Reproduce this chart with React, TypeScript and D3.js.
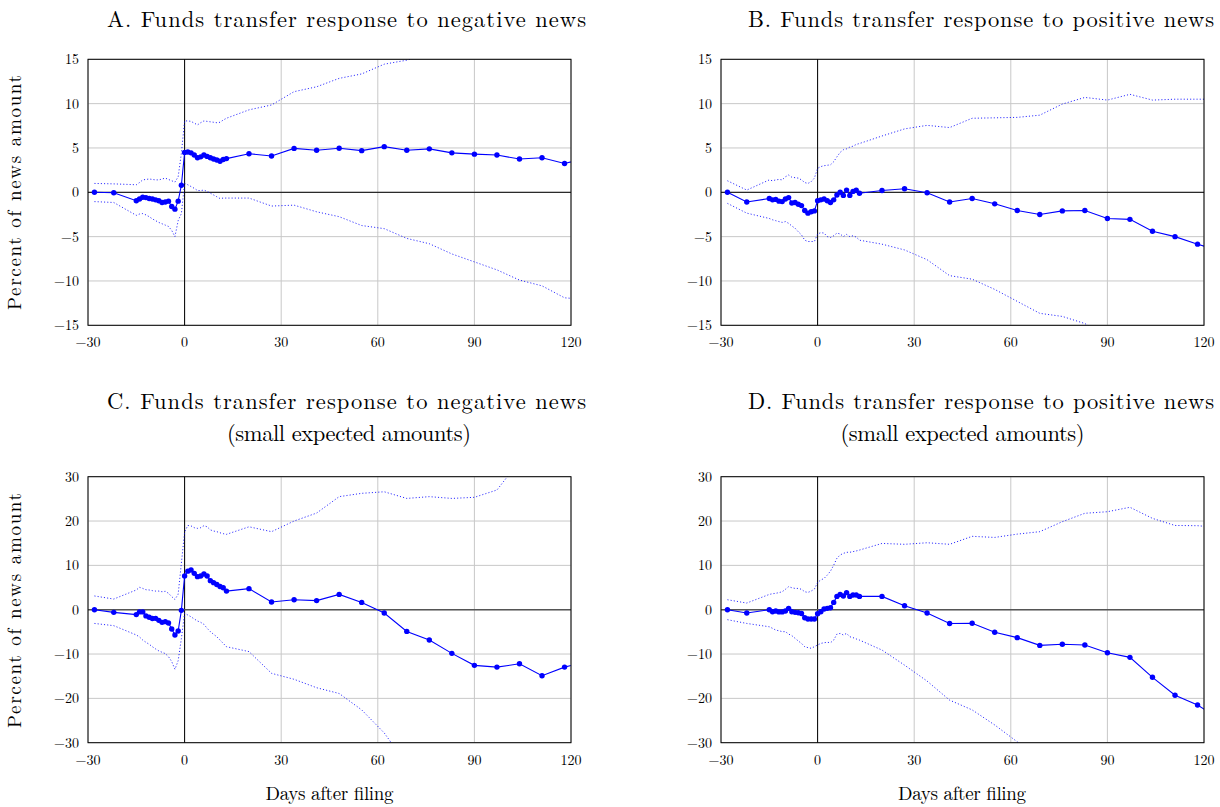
import React from "react";
import * as d3 from "d3";

const DAYS = [-28, -22, -15, -14, -13, -12, -11, -10, -9, -8, -7, -6, -5, -4, -3, -2, -1, 0, 1, 2, 3, 4, 5, 6, 7, 8, 9, 10, 11, 12, 13, 20, 27, 34, 41, 48, 55, 62, 69, 76, 83, 90, 97, 104, 111, 118, 125];

const X_TICKS = [-30, 0, 30, 60, 90, 120];
const Y_TICKS_TOP = [-15, -10, -5, 0, 5, 10, 15];
const Y_TICKS_BOTTOM = [-30, -20, -10, 0, 10, 20, 30];

// Panel A
const estA = [0, -0.05, -0.95, -0.75, -0.55, -0.6, -0.7, -0.75, -0.85, -0.95, -1.15, -1.1, -1.0, -1.6, -1.9, -1.0, 0.8, 4.5, 4.55, 4.45, 4.2, 3.9, 4.0, 4.2, 4.05, 3.9, 3.75, 3.65, 3.5, 3.7, 3.8, 4.35, 4.1, 4.95, 4.75, 4.96, 4.7, 5.15, 4.75, 4.9, 4.45, 4.3, 4.2, 3.75, 3.9, 3.25, 3.9];
const upA = [1.0, 0.95, 0.85, 1.1, 1.4, 1.45, 1.5, 1.45, 1.4, 1.4, 1.5, 1.6, 1.45, 1.3, 1.15, 1.75, 4.4, 8.05, 8.05, 8.0, 7.8, 7.6, 7.85, 8.05, 8.0, 7.95, 7.9, 7.85, 7.9, 8.15, 8.35, 9.3, 9.85, 11.35, 11.9, 12.85, 13.35, 14.45, 14.9, 15.6, 15.85, 16.45, 17.15, 17.4, 18.35, 18.4, 19.0];
const loA = [-1.05, -1.15, -2.6, -2.45, -2.4, -2.55, -2.75, -3.0, -3.2, -3.4, -3.55, -3.7, -3.85, -4.3, -5.0, -3.2, -2.4, 1.0, 0.85, 0.65, 0.45, 0.2, 0.2, 0.25, 0.1, -0.1, -0.3, -0.5, -0.7, -0.65, -0.65, -0.65, -1.55, -1.45, -2.2, -2.75, -3.75, -4.1, -5.2, -5.8, -6.95, -7.85, -8.75, -9.9, -10.55, -11.9, -12.1];

// Panel B
const estB = [0, -1.1, -0.7, -0.85, -0.8, -1.0, -1.05, -0.75, -0.6, -1.2, -1.15, -1.35, -1.5, -2.05, -2.35, -2.2, -2.1, -0.95, -0.85, -0.75, -0.95, -1.15, -0.85, -0.3, 0, -0.35, 0.25, -0.35, 0.1, 0.25, -0.1, 0.2, 0.4, -0.05, -1.1, -0.7, -1.3, -2.05, -2.5, -2.1, -2.05, -2.95, -3.05, -4.4, -5.0, -5.85, -6.6];
const upB = [1.3, 0.25, 1.4, 1.3, 1.4, 1.45, 1.4, 1.75, 1.95, 1.7, 1.65, 1.6, 1.4, 1.1, 1.0, 1.2, 1.6, 2.7, 2.9, 3.0, 3.05, 3.1, 3.45, 4.0, 4.5, 4.8, 4.9, 5.1, 5.2, 5.4, 5.5, 6.35, 7.15, 7.55, 7.3, 8.35, 8.4, 8.45, 8.7, 9.95, 10.7, 10.4, 11.05, 10.4, 10.5, 10.5, 10.5];
const loB = [-1.25, -2.35, -2.95, -3.1, -3.2, -3.3, -3.4, -3.3, -3.5, -3.8, -4.05, -4.45, -4.8, -5.4, -5.55, -5.55, -5.55, -4.7, -4.55, -4.6, -5.0, -5.1, -4.9, -4.6, -4.7, -5.0, -4.75, -5.0, -4.9, -5.05, -5.4, -5.85, -6.5, -7.6, -9.4, -9.8, -10.95, -12.3, -13.65, -14.0, -14.8, -16.3, -17.15, -19.2, -20.5, -22.2, -23.5];

// Panel C
const estC = [0, -0.6, -1.1, -0.5, -0.5, -1.4, -1.7, -2.0, -1.95, -2.4, -2.85, -2.7, -3.0, -4.35, -5.7, -4.8, -0.15, 7.6, 8.7, 8.95, 8.2, 7.45, 7.6, 8.05, 7.6, 6.55, 6.1, 5.7, 5.25, 4.95, 4.2, 4.75, 1.75, 2.25, 2.05, 3.45, 1.65, -0.75, -4.9, -6.85, -9.85, -12.55, -12.95, -12.2, -14.9, -12.95, -11.7];
const upC = [3.1, 2.4, 4.45, 5.05, 4.8, 4.5, 4.45, 4.3, 4.2, 4.2, 4.05, 4.15, 3.7, 2.95, 2.3, 3.5, 10.5, 17.5, 19.0, 18.9, 18.5, 18.35, 18.5, 18.95, 18.7, 18.0, 17.75, 17.6, 17.35, 17.15, 17.0, 18.7, 17.6, 20.0, 21.8, 25.5, 26.25, 26.6, 25.1, 25.5, 25.1, 25.35, 27.0, 33.5, 34, 35, 36];
const loC = [-3.1, -3.6, -5.7, -6.15, -6.85, -7.35, -7.8, -8.35, -8.85, -9.3, -9.6, -9.9, -10.6, -11.7, -13.45, -11.5, -6.5, -0.8, -1.2, -1.6, -2.1, -2.55, -2.85, -3.3, -4.2, -4.95, -5.55, -6.1, -6.85, -7.6, -8.35, -9.45, -14.35, -15.7, -17.6, -18.9, -22.6, -27.8, -34.9, -39.2, -44.8, -50.5, -52.9, -57.9, -63.8, -61, -60];

// Panel D
const estD = [0, -0.75, 0, -0.45, -0.3, -0.5, -0.5, -0.3, 0.3, -0.45, -0.6, -0.7, -0.85, -1.8, -2.1, -2.1, -2.1, -0.9, -0.45, 0.15, 0.3, 0.45, 1.65, 3.0, 3.45, 3.1, 3.85, 3.0, 3.3, 3.3, 3.0, 3.0, 0.9, -0.75, -3.1, -3.05, -5.1, -6.3, -8.05, -7.8, -7.95, -9.7, -10.75, -15.25, -19.3, -21.5, -24.7];
const upD = [2.25, 1.5, 3.45, 3.6, 3.7, 3.85, 4.05, 4.6, 5.2, 4.95, 4.8, 4.8, 4.6, 4.05, 3.9, 4.2, 4.65, 6.15, 6.7, 7.05, 7.8, 8.7, 10.05, 11.6, 12.35, 12.7, 12.95, 12.95, 13.1, 13.25, 13.45, 14.95, 14.75, 15.1, 14.75, 16.55, 16.3, 17.05, 17.6, 19.85, 21.75, 22.1, 23.1, 20.6, 19.0, 18.95, 18.5];
const loD = [-2.25, -3.1, -3.85, -4.2, -4.6, -4.75, -4.95, -4.95, -5.5, -5.85, -6.45, -7.05, -7.6, -8.35, -8.55, -8.7, -8.35, -7.95, -7.6, -7.45, -7.35, -7.45, -6.85, -5.5, -5.35, -5.7, -5.35, -6.1, -6.3, -6.6, -6.85, -9.1, -12.5, -16.1, -20.4, -22.6, -26.0, -29.8, -33.7, -35.5, -37.6, -41.5, -44.6, -51.1, -57.6, -62, -65];

const TITLE_A = "A. Funds transfer response to negative news";
const TITLE_B = "B. Funds transfer response to positive news";
const TITLE_C = ["C. Funds transfer response to negative news", "(small expected amounts)"];
const TITLE_D = ["D. Funds transfer response to positive news", "(small expected amounts)"];
const Y_LABEL = "Percent of news amount";
const X_LABEL = "Days after filing";

const FONT = "'Latin Modern Roman', 'Liberation Serif', 'DejaVu Serif', serif";
const BLUE = "#0000ff";

const fmt = (v: number) => (v < 0 ? "\u2212" + Math.abs(v) : String(v));

type PanelProps = {
  id: string;
  x0: number;
  x1: number;
  yTop: number;
  yBot: number;
  yDomain: [number, number];
  yTicks: number[];
  est: number[];
  up: number[];
  lo: number[];
  zeroStyle: { stroke: string; width: number };
};

function Panel(p: PanelProps) {
  const x = d3.scaleLinear().domain([-30, 120]).range([p.x0, p.x1]);
  const y = d3.scaleLinear().domain(p.yDomain).range([p.yBot, p.yTop]);
  const line = (vals: number[]) =>
    d3
      .line<number>()
      .x((_, i) => x(DAYS[i]))
      .y((v) => y(v))(vals) || "";
  const clipId = "clip-" + p.id;
  return (
    <g>
      <defs>
        <clipPath id={clipId}>
          <rect x={p.x0} y={p.yTop} width={p.x1 - p.x0} height={p.yBot - p.yTop} />
        </clipPath>
      </defs>
      {X_TICKS.map((t) => (
        <line key={"gx" + t} x1={x(t)} x2={x(t)} y1={p.yTop} y2={p.yBot} stroke="#c8c8c8" strokeWidth={1} />
      ))}
      {p.yTicks.map((t) => (
        <line key={"gy" + t} x1={p.x0} x2={p.x1} y1={y(t)} y2={y(t)} stroke="#c8c8c8" strokeWidth={1} />
      ))}
      <line x1={x(0)} x2={x(0)} y1={p.yTop} y2={p.yBot} stroke="#000" strokeWidth={1} />
      <line x1={p.x0} x2={p.x1} y1={y(0)} y2={y(0)} stroke={p.zeroStyle.stroke} strokeWidth={p.zeroStyle.width} />
      <g clipPath={`url(#${clipId})`}>
        <path d={line(p.up)} fill="none" stroke={BLUE} strokeOpacity={0.85} strokeWidth={1} strokeDasharray="1.1 2.1" />
        <path d={line(p.lo)} fill="none" stroke={BLUE} strokeOpacity={0.85} strokeWidth={1} strokeDasharray="1.1 2.1" />
        <path d={line(p.est)} fill="none" stroke={BLUE} strokeWidth={1.1} />
        {p.est.map((v, i) => (
          <circle key={i} cx={x(DAYS[i])} cy={y(v)} r={2.7} fill={BLUE} />
        ))}
      </g>
      <rect x={p.x0} y={p.yTop} width={p.x1 - p.x0} height={p.yBot - p.yTop} fill="none" stroke="#000" strokeWidth={1} />
      {X_TICKS.map((t) => (
        <text key={"tx" + t} x={x(t)} y={p.yBot + 22} textAnchor="middle" fontSize={14} fontFamily={FONT}>
          {fmt(t)}
        </text>
      ))}
      {p.yTicks.map((t) => (
        <text key={"ty" + t} x={p.x0 - 9} y={y(t) + 5} textAnchor="end" fontSize={14} fontFamily={FONT}>
          {fmt(t)}
        </text>
      ))}
    </g>
  );
}

export default function App() {
  const L = { x0: 88, x1: 571 };
  const R = { x0: 721, x1: 1204 };
  const TOP = { yTop: 59.3, yBot: 325.3 };
  const BOT = { yTop: 476.7, yBot: 742.7 };
  const thinZero = { stroke: "#000", width: 1 };
  const thickZero = { stroke: "#555", width: 1.6 };
  const titleLen = 479;
  const subLen = 244;
  return (
    <svg width={1220} height={807} style={{ position: "absolute", left: 0, top: 0, background: "#fff" }}>
      <rect x={0} y={0} width={1220} height={807} fill="#fff" />
      <Panel id="A" {...L} {...TOP} yDomain={[-15, 15]} yTicks={Y_TICKS_TOP} est={estA} up={upA} lo={loA} zeroStyle={thinZero} />
      <Panel id="B" {...R} {...TOP} yDomain={[-15, 15]} yTicks={Y_TICKS_TOP} est={estB} up={upB} lo={loB} zeroStyle={thinZero} />
      <Panel id="C" {...L} {...BOT} yDomain={[-30, 30]} yTicks={Y_TICKS_BOTTOM} est={estC} up={upC} lo={loC} zeroStyle={thickZero} />
      <Panel id="D" {...R} {...BOT} yDomain={[-30, 30]} yTicks={Y_TICKS_BOTTOM} est={estD} up={upD} lo={loD} zeroStyle={thickZero} />

      <g fontFamily={FONT} fontSize={22.5} fill="#000">
        <text x={346.5} y={27} textAnchor="middle" textLength={titleLen} lengthAdjust="spacing">{TITLE_A}</text>
        <text x={981} y={27} textAnchor="middle" textLength={466} lengthAdjust="spacing">{TITLE_B}</text>
        <text x={346.5} y={409} textAnchor="middle" textLength={titleLen} lengthAdjust="spacing">{TITLE_C[0]}</text>
        <text x={349} y={441} textAnchor="middle" textLength={subLen} lengthAdjust="spacing">{TITLE_C[1]}</text>
        <text x={981} y={409} textAnchor="middle" textLength={466} lengthAdjust="spacing">{TITLE_D[0]}</text>
        <text x={962.5} y={441} textAnchor="middle" textLength={subLen} lengthAdjust="spacing">{TITLE_D[1]}</text>
      </g>
      <g fontFamily={FONT} fontSize={19} fill="#000">
        <text transform={`translate(21,192.5) rotate(-90)`} textAnchor="middle" textLength={235} lengthAdjust="spacing">{Y_LABEL}</text>
        <text transform={`translate(21,610.5) rotate(-90)`} textAnchor="middle" textLength={235} lengthAdjust="spacing">{Y_LABEL}</text>
        <text x={329.5} y={800} textAnchor="middle" textLength={128} lengthAdjust="spacing">{X_LABEL}</text>
        <text x={962} y={800} textAnchor="middle" textLength={128} lengthAdjust="spacing">{X_LABEL}</text>
      </g>
    </svg>
  );
}
